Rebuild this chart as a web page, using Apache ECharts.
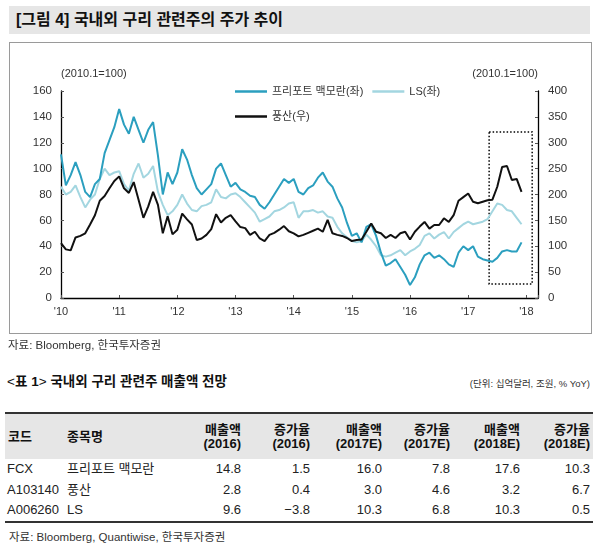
<!DOCTYPE html>
<html>
<head>
<meta charset="utf-8">
<script src="https://cdn.jsdelivr.net/npm/echarts@6/dist/echarts.min.js"></script>
<style>
  html, body { margin: 0; padding: 0; background: #fff; }
  body { width: 599px; height: 559px; position: relative; overflow: hidden;
         font-family: "Liberation Sans", "Noto Sans CJK KR", sans-serif; color: #222; }
  .abs { position: absolute; white-space: nowrap; }
  #titlebar { left: 9px; top: 6px; width: 581px; height: 28px; background: #e6e6e6; }
  #titletext { left: 16px; top: 10px; font-size: 16px; font-weight: bold; line-height: 19px; color: #111; }
  #box { left: 9px; top: 42px; width: 581px; height: 290px; border: 1px solid #9a9a9a; }
  #chart { left: 0; top: 0; width: 599px; height: 340px; }
  .src { font-size: 11.5px; color: #333; line-height: 14px; }
  #tbltitle { left: 7px; top: 374px; font-size: 13.5px; font-weight: bold; line-height: 16px; color: #111; }
  .br { display: inline-block; width: 8px; text-align: center; font-weight: normal; }
  #unit { right: 9px; top: 378px; font-size: 9.5px; color: #333; line-height: 12px; }
  table { position: absolute; left: 5px; top: 412px; width: 588px; border-collapse: collapse;
          table-layout: fixed; font-size: 13px; color: #222; }
  thead tr { background: #e6e6e6; height: 46px; border-top: 2px solid #333; }
  th { font-weight: bold; line-height: 14px; padding: 0; color: #111; }
  td { height: 20.5px; padding: 0; line-height: 20px; }
  tbody tr:last-child { border-bottom: 2px solid #333; }
  .l { text-align: left; } .r { text-align: right; }
</style>
</head>
<body>
<div id="titlebar" class="abs"></div>
<div id="titletext" class="abs">[그림 4] 국내외 구리 관련주의 주가 추이</div>
<div id="box" class="abs"></div>
<div id="chart" class="abs"></div>
<div class="abs src" style="left:8px; top:338px;">자료: Bloomberg, 한국투자증권</div>
<div id="tbltitle" class="abs"><span class="br">&lt;</span>표 1<span class="br">&gt;</span> 국내외 구리 관련주 매출액 전망</div>
<div id="unit" class="abs">(단위: 십억달러, 조원, % YoY)</div>
<table id="tbl">
  <colgroup>
    <col style="width:62px"><col style="width:113px"><col style="width:61px"><col style="width:69px">
    <col style="width:72px"><col style="width:68px"><col style="width:70px"><col style="width:73px">
  </colgroup>
  <thead><tr id="hdr"></tr></thead>
  <tbody id="body"></tbody>
</table>
<div class="abs src" style="left:9px; top:530px;">자료: Bloomberg, Quantiwise, 한국투자증권</div>

<script>
// ---------- chart data (monthly, Jan 2010 .. Dec 2017) ----------
const startYear = 2010;
const seriesNames = ['프리포트 맥모란(좌)', 'LS(좌)', '풍산(우)'];
const xTickLabels = ["'10", "'11", "'12", "'13", "'14", "'15", "'16", "'17", "'18"];
const fcx = [
  111, 87, 95, 105, 95, 82, 78, 88, 92, 112, 122, 132,
  146, 134, 127, 140, 130, 120, 130, 136, 110, 80, 97, 88,
  97, 115, 107, 95, 85, 80, 84, 88, 100, 104, 95, 86,
  89, 84, 82, 79, 78, 72, 69, 74, 80, 86, 92, 89,
  92, 82, 80, 85, 87, 93, 97, 90, 86, 77, 70, 58,
  48, 50, 43, 55, 57, 48, 35, 25, 27, 30, 24, 18,
  10, 16, 26, 33, 35, 31, 33, 30, 26, 24, 35, 40,
  37, 40, 32, 30, 29, 28, 31, 36, 37, 36, 36, 43
];
const ls = [
  86, 80, 82, 87, 78, 70, 76, 80, 92, 100, 95, 97,
  98, 88, 83, 96, 104, 93, 96, 102, 82, 72, 64, 67,
  72, 80, 73, 68, 67, 71, 72, 74, 84, 78, 77, 80,
  81, 78, 74, 70, 66, 59, 61, 63, 67, 68, 70, 73,
  74, 62, 67, 67, 68, 66, 67, 63, 62, 55, 50, 47,
  44, 43, 44, 49, 45, 40, 33, 32, 33, 35, 37, 33,
  36, 38, 41, 48, 50, 46, 49, 51, 46, 51, 54, 57,
  59, 57, 58, 59, 61, 67, 73, 72, 68, 67, 62, 57
];
const poongsan = [
  106, 94, 92, 117, 120, 125, 142, 160, 188, 197, 212, 226,
  235, 212, 203, 224, 190, 155, 177, 205, 180, 125, 158, 123,
  132, 163, 152, 142, 112, 115, 122, 133, 162, 146, 155, 160,
  148, 137, 135, 122, 128, 115, 110, 122, 126, 132, 139, 129,
  125, 119, 122, 126, 130, 134, 128, 151, 125, 122, 120, 116,
  110, 112, 113, 128, 144, 128, 125, 116, 122, 116, 125, 128,
  113, 128, 138, 147, 134, 141, 141, 154, 147, 160, 188, 195,
  202, 186, 183, 186, 189, 190, 215, 253, 255, 228, 230, 205
];
// dotted highlight box: [year from, right-axis top], [year to, right-axis bottom]
const boxRange = [[2017.36, 321], [2018.1, 27]];

// ---------- table data ----------
const tblHeaders = ['코드', '종목명', '매출액<br>(2016)', '증가율<br>(2016)', '매출액<br>(2017E)', '증가율<br>(2017E)', '매출액<br>(2018E)', '증가율<br>(2018E)'];
const tblCodes = ['FCX', 'A103140', 'A006260'];
const tblNames = ['프리포트 맥모란', '풍산', 'LS'];
const sales2016 = ['14.8', '2.8', '9.6'];
const growth2016 = ['1.5', '0.4', '−3.8'];
const sales2017 = ['16.0', '3.0', '10.3'];
const growth2017 = ['7.8', '4.6', '6.8'];
const sales2018 = ['17.6', '3.2', '10.3'];
const growth2018 = ['10.3', '6.7', '0.5'];

// ---------- build table ----------
const hdr = document.getElementById('hdr');
tblHeaders.forEach((h, i) => {
  const th = document.createElement('th');
  th.className = i < 2 ? 'l' : 'r';
  if (i === 0) th.style.paddingLeft = '3px';
  if (i === 7) th.style.paddingRight = '3px';
  th.innerHTML = h;
  hdr.appendChild(th);
});
const tb = document.getElementById('body');
tblCodes.forEach((c, r) => {
  const tr = document.createElement('tr');
  const cells = [c, tblNames[r], sales2016[r], growth2016[r], sales2017[r], growth2017[r], sales2018[r], growth2018[r]];
  cells.forEach((v, i) => {
    const td = document.createElement('td');
    td.className = i < 2 ? 'l' : 'r';
    if (i === 0) td.style.paddingLeft = '2px';
    if (i === 7) td.style.paddingRight = '3px';
    td.textContent = v;
    tr.appendChild(td);
  });
  tb.appendChild(tr);
});

// ---------- chart ----------
const toXY = arr => arr.map((v, i) => [startYear + i / 12, v]);
const FONT = '"Liberation Sans", "Noto Sans CJK KR", sans-serif';
const colors = ['#2b9fbf', '#a3d6e0', '#111111'];

const chart = echarts.init(document.getElementById('chart'), null, { renderer: 'canvas' });
chart.setOption({
  animation: false,
  textStyle: { fontFamily: FONT },
  grid: { left: 61, right: 61, top: 91, bottom: 42, containLabel: false },
  legend: [
    { data: [seriesNames[0], seriesNames[1]], left: 230, top: 81, icon: 'rect', itemWidth: 32, itemHeight: 2.5,
      itemGap: 9, textStyle: { fontSize: 11, color: '#333', fontFamily: FONT }, selectedMode: false },
    { data: [seriesNames[2]], left: 230, top: 106, icon: 'rect', itemWidth: 32, itemHeight: 2.5,
      textStyle: { fontSize: 11, color: '#333', fontFamily: FONT }, selectedMode: false }
  ],
  xAxis: {
    type: 'value', min: 2010, max: 2018.2, interval: 1,
    axisLine: { lineStyle: { color: '#000', width: 1.3 } },
    axisTick: { inside: true, length: 3, lineStyle: { color: '#555' } },
    splitLine: { show: false },
    axisLabel: {
      color: '#333', fontSize: 11, margin: 8,
      formatter: v => { const k = Math.round(v - startYear); return Math.abs(v - Math.round(v)) < 1e-6 ? (xTickLabels[k] || '') : ''; }
    }
  },
  yAxis: [
    { type: 'value', min: 0, max: 160, interval: 20, name: '(2010.1=100)',
      nameLocation: 'end', nameGap: 12, nameTextStyle: { align: 'left', color: '#333', fontSize: 11, padding: [0, 0, 0, 0] },
      axisLine: { show: true, lineStyle: { color: '#000', width: 1.3 } },
      axisTick: { show: true, inside: true, length: 3, lineStyle: { color: '#555' } },
      splitLine: { show: false },
      axisLabel: { color: '#333', fontSize: 11.5, margin: 9 } },
    { type: 'value', min: 0, max: 400, interval: 50, name: '(2010.1=100)', position: 'right',
      nameLocation: 'end', nameGap: 12, nameTextStyle: { align: 'right', color: '#333', fontSize: 11 },
      axisLine: { show: true, lineStyle: { color: '#000', width: 1.3 } },
      axisTick: { show: true, inside: true, length: 3, lineStyle: { color: '#555' } },
      splitLine: { show: false },
      axisLabel: { color: '#333', fontSize: 11.5, margin: 10 } }
  ],
  series: [
    { name: seriesNames[1], type: 'line', yAxisIndex: 0, data: toXY(ls), showSymbol: false,
      lineStyle: { width: 2, color: colors[1] }, itemStyle: { color: colors[1] }, z: 2 },
    { name: seriesNames[0], type: 'line', yAxisIndex: 0, data: toXY(fcx), showSymbol: false,
      lineStyle: { width: 2, color: colors[0] }, itemStyle: { color: colors[0] }, z: 3 },
    { name: seriesNames[2], type: 'line', yAxisIndex: 1, data: toXY(poongsan), showSymbol: false,
      lineStyle: { width: 2, color: colors[2] }, itemStyle: { color: colors[2] }, z: 4,
      markArea: { silent: true,
        itemStyle: { color: 'rgba(0,0,0,0)', borderColor: '#000', borderWidth: 1.5, borderType: [1.5, 2] },
        data: [[{ coord: boxRange[0] }, { coord: boxRange[1] }]] } }
  ]
});
</script>
</body>
</html>
